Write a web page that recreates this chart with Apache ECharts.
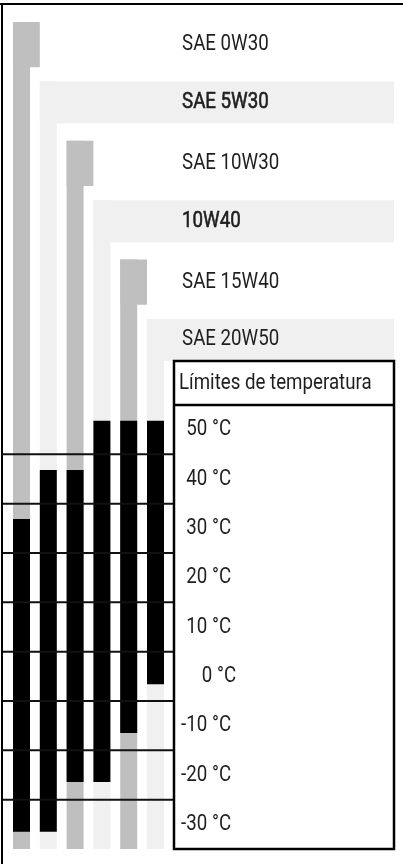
<!DOCTYPE html>
<html>
<head>
<meta charset="utf-8">
<script src="https://cdn.jsdelivr.net/npm/echarts@6/dist/echarts.min.js"></script>
<style>
  html, body { margin: 0; padding: 0; background: #fff; }
  #chart { width: 403px; height: 864px; }
</style>
</head>
<body>
<div id="chart"></div>
<script>
// Oil grades and the temperature range (°C) each one covers
const categories = ['SAE 0W30', 'SAE 5W30', 'SAE 10W30', '10W40', 'SAE 15W40', 'SAE 20W50'];
const tempHigh = [31.9, 41.8, 41.8, 51.8, 51.8, 51.8];
const tempLow = [-31.5, -31.5, -21.4, -21.4, -11.5, -1.6];

// Temperature scale
const tempTicks = [50, 40, 30, 20, 10, 0, -10, -20, -30];
const tickLabels = ['50 °C', '40 °C', '30 °C', '20 °C', '10 °C', '0 °C', '-10 °C', '-20 °C', '-30 °C'];
const bandEdges = [45, 35, 25, 15, 5, -5, -15, -25];
const TEMP_MIN = -35;
const TEMP_MAX = 55;

// Layout in column units (one unit = spacing between two grade columns)
const X_MIN = -0.728, X_MAX = 13.9;
const COL_HALF = 0.317;
const LABEL_X = 5.99;
const BOX_LEFT = 5.69;
const TICK_RIGHT = 7.82;
const ROWS_MAX = 6.45;

// Condensed look: Roboto squeezed horizontally
const FONT = 'Roboto, "Noto Sans", sans-serif';
const FONT_SIZE = 22;
const SQUEEZE = 0.85;
const GRAY = '#bfbfbf', LIGHT = '#f0f0f0', INK = '#1e1e1e';

function colColor(i) { return i % 2 === 0 ? GRAY : LIGHT; }

function textEl(x, y, text, align, heavy) {
  return {
    type: 'text', x: x, y: y, scaleX: SQUEEZE,
    style: { text: text, fill: INK, fontFamily: FONT, fontSize: FONT_SIZE,
             align: align, verticalAlign: 'middle',
             stroke: heavy ? INK : null, lineWidth: heavy ? 0.6 : 0 }
  };
}

// Grade name rows with their coloured tab and the start of each column strip
function renderHeader(params, api) {
  const i = api.value(0);
  const row = api.value(1);
  const cs = params.coordSys;
  const gridBottom = cs.y + cs.height;
  const gridRight = cs.x + cs.width;
  const p = api.coord([i - COL_HALF, row]);
  const left = p[0], top = p[1];
  const stripW = api.size([2 * COL_HALF, 0])[0];
  const wideRow = i % 2 === 1;
  const blockH = api.size([0, wideRow ? 0.71 : 0.76])[1];
  const colW = api.size([1, 0])[0];
  const tx = api.coord([LABEL_X, 0])[0];
  return {
    type: 'group',
    children: [
      { type: 'rect', shape: { x: left, y: top, width: wideRow ? gridRight - left : colW, height: blockH },
        style: { fill: colColor(i) } },
      { type: 'rect', shape: { x: left, y: top, width: stripW, height: gridBottom - top },
        style: { fill: colColor(i) } },
      textEl(tx, top + blockH / 2, categories[i], 'left', i === 1 || i === 3)
    ]
  };
}

// Column strip over the whole temperature scale plus the black usable range
function renderColumn(params, api) {
  const i = api.value(0), lo = api.value(1), hi = api.value(2);
  const top = api.coord([i - COL_HALF, TEMP_MAX]);
  const yBot = api.coord([i, TEMP_MIN])[1];
  const w = api.size([2 * COL_HALF, 0])[0];
  const yHi = api.coord([i, hi])[1];
  const yLo = api.coord([i, lo])[1];
  return {
    type: 'group',
    children: [
      { type: 'rect', shape: { x: top[0], y: top[1], width: w, height: yBot - top[1] }, style: { fill: colColor(i) } },
      { type: 'rect', shape: { x: top[0], y: yHi, width: w, height: yLo - yHi }, style: { fill: '#000' } }
    ]
  };
}

// Separators between the 10 °C bands
function renderEdge(params, api) {
  const y = api.coord([0, api.value(1)])[1];
  const xEnd = api.coord([BOX_LEFT, 0])[0];
  return { type: 'line', shape: { x1: params.coordSys.x, y1: y, x2: xEnd, y2: y },
           style: { stroke: '#111', lineWidth: 2 } };
}

// Framed legend box with its title row
function renderBox(params, api) {
  const cs = params.coordSys;
  const left = api.coord([BOX_LEFT, 0])[0];
  const right = cs.x + cs.width;
  const headBottom = api.coord([0, TEMP_MAX])[1];
  const top = headBottom - 44;
  const bottom = cs.y + cs.height;
  return {
    type: 'group',
    children: [
      { type: 'rect', shape: { x: left, y: top, width: right - left, height: bottom - top },
        style: { fill: '#fff', stroke: '#000', lineWidth: 2.5 } },
      { type: 'line', shape: { x1: left, y1: headBottom, x2: right, y2: headBottom },
        style: { stroke: '#000', lineWidth: 2.5 } },
      textEl(left + 5, (top + headBottom) / 2, 'Límites de temperatura', 'left', false)
    ]
  };
}

// Temperature labels inside the box
function renderTick(params, api) {
  const k = api.value(0), t = api.value(1);
  const p = api.coord([TICK_RIGHT, t]);
  return textEl(p[0] + (t === 0 ? 5 : 0), p[1], tickLabels[k], 'right', false);
}

const chart = echarts.init(document.getElementById('chart'), null, { renderer: 'canvas' });
chart.setOption({
  animation: false,
  backgroundColor: '#fff',
  grid: [
    { left: 2, right: 9, top: 22, height: 383 },
    { left: 2, right: 9, top: 405, height: 444 }
  ],
  xAxis: [
    { type: 'value', gridIndex: 0, min: X_MIN, max: X_MAX, show: false },
    { type: 'value', gridIndex: 1, min: X_MIN, max: X_MAX, show: false }
  ],
  yAxis: [
    { type: 'value', gridIndex: 0, min: 0, max: ROWS_MAX, inverse: true, show: false },
    { type: 'value', gridIndex: 1, min: TEMP_MIN, max: TEMP_MAX, show: false }
  ],
  graphic: [
    { type: 'line', shape: { x1: 0, y1: 4, x2: 403, y2: 4 }, style: { stroke: '#000', lineWidth: 2 }, z: 100 },
    { type: 'line', shape: { x1: 2, y1: 3, x2: 2, y2: 864 }, style: { stroke: '#000', lineWidth: 2 }, z: 100 }
  ],
  series: [
    { type: 'custom', xAxisIndex: 0, yAxisIndex: 0, z: 1, silent: true,
      data: categories.map((c, i) => [i, i]), renderItem: renderHeader },
    { type: 'custom', xAxisIndex: 1, yAxisIndex: 1, z: 2, silent: true,
      data: categories.map((c, i) => [i, tempLow[i], tempHigh[i]]), renderItem: renderColumn },
    { type: 'custom', xAxisIndex: 1, yAxisIndex: 1, z: 3, silent: true,
      data: bandEdges.map(t => [0, t]), renderItem: renderEdge },
    { type: 'custom', xAxisIndex: 1, yAxisIndex: 1, z: 4, silent: true,
      data: [[0, TEMP_MAX]], renderItem: renderBox },
    { type: 'custom', xAxisIndex: 1, yAxisIndex: 1, z: 5, silent: true,
      data: tempTicks.map((t, k) => [k, t]), renderItem: renderTick }
  ]
});
</script>
</body>
</html>
